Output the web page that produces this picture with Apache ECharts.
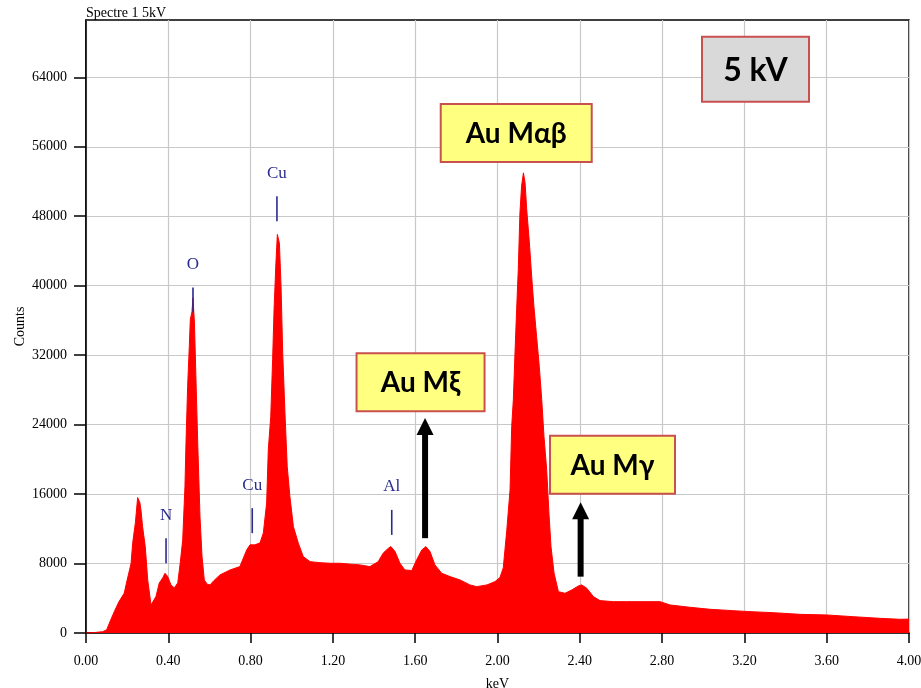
<!DOCTYPE html>
<html>
<head>
<meta charset="utf-8">
<title>Spectre 1 5kV</title>
<script src="https://cdn.jsdelivr.net/npm/echarts@6.0.0/dist/echarts.min.js"></script>
<style>
  html, body { margin: 0; padding: 0; background: #ffffff; }
  #chart { width: 921px; height: 688px; }
</style>
</head>
<body>
<div id="chart"></div>
<script>
// EDS spectrum, 5 kV beam: energy (keV) and counts per channel
const energy = [
  0.00, 0.04, 0.08, 0.10, 0.12, 0.14, 0.16, 0.186, 0.20, 0.219,
  0.227, 0.24, 0.251, 0.256, 0.262, 0.267, 0.275, 0.288, 0.300, 0.316,
  0.324, 0.34, 0.356, 0.373, 0.384, 0.397, 0.413, 0.429, 0.446, 0.458,
  0.47, 0.481, 0.486, 0.494, 0.502, 0.507, 0.515, 0.52, 0.527, 0.535,
  0.543, 0.554, 0.564, 0.575, 0.59, 0.603, 0.62, 0.651, 0.70, 0.748,
  0.781, 0.797, 0.821, 0.846, 0.862, 0.878, 0.886, 0.898, 0.907, 0.914,
  0.923, 0.93, 0.94, 0.948, 0.956, 0.967, 0.978, 0.991, 1.008, 1.032,
  1.056, 1.089, 1.137, 1.186, 1.234, 1.30, 1.332, 1.38, 1.42, 1.445,
  1.47, 1.482, 1.502, 1.526, 1.55, 1.583, 1.607, 1.632, 1.652, 1.672,
  1.696, 1.729, 1.769, 1.818, 1.866, 1.899, 1.949, 1.988, 2.012, 2.028,
  2.045, 2.061, 2.069, 2.077, 2.085, 2.093, 2.101, 2.109, 2.117, 2.126,
  2.134, 2.142, 2.155, 2.166, 2.177, 2.19, 2.203, 2.215, 2.226, 2.239,
  2.25, 2.26, 2.275, 2.296, 2.328, 2.361, 2.393, 2.409, 2.434, 2.466,
  2.498, 2.563, 2.628, 2.693, 2.79, 2.839, 2.936, 3.033, 3.146, 3.227,
  3.34, 3.47, 3.60, 3.729, 3.858, 3.956, 4.00
];
const counts = [
  0, 50, 150, 350, 1500, 2600, 3600, 4600, 6100, 8000,
  10400, 12700, 15600, 15700, 15000, 14200, 12250, 9950, 6100, 3230,
  3100, 4200, 5750, 6350, 6880, 6500, 5540, 5190, 5770, 8070,
  10700, 16900, 21900, 28400, 33000, 36100, 37000, 38600, 35700, 28800,
  21900, 13400, 8800, 6100, 5600, 5540, 6000, 6690, 7260, 7650,
  9570, 10150, 10150, 10380, 11530, 14990, 21100, 24950, 31480, 37250,
  42600, 45900, 44900, 39900, 32280, 25370, 19180, 15720, 12260, 10340,
  8800, 8220, 8100, 8030, 8030, 7900, 7840, 7650, 8220, 9220,
  9770, 9950, 9380, 8030, 7260, 7190, 8420, 9570, 9950, 9380,
  7840, 6880, 6500, 6110, 5540, 5340, 5540, 5920, 6400, 7500,
  11800, 16500, 23790, 26870, 32250, 37250, 41860, 48400, 51470, 53000,
  51860, 48780, 44940, 41090, 37630, 34170, 30710, 26870, 22640, 18800,
  13800, 9950, 6880, 4760, 4570, 4960, 5420, 5540, 5150, 4190,
  3730, 3610, 3610, 3610, 3610, 3230, 2960, 2730, 2570, 2460,
  2340, 2150, 2080, 1880, 1690, 1580, 1600
];

// Axis ticks
const countTicks = [0, 8000, 16000, 24000, 32000, 40000, 48000, 56000, 64000];

// Element identification markers (line energy, count level at the marker foot)
const elementNames = ['N', 'O', 'Cu', 'Cu', 'Al'];
const elementEnergy = [0.389, 0.52, 0.808, 0.928, 1.486];
const elementLevel = [8030, 36900, 11500, 47430, 11300];

// Callout boxes (anchor energy, anchor count level)
const calloutText = ['5 kV', 'Au M\u03b1\u03b2', 'Au M\u03be', 'Au M\u03b3'];
const calloutEnergy = [3.254, 2.091, 1.626, 2.559];
const calloutLevel = [64920, 57600, 28890, 19370];

// Arrows pointing at the Au M lines (energy, foot level, tip level)
const arrowEnergy = [1.648, 2.404];
const arrowFoot = [10920, 6490];
const arrowTip = [24760, 15070];

// Box looks for each callout
const calloutStyle = [
  { w: 107, h: 65, fill: '#d9d9d9', size: 32 },
  { w: 151, h: 58, fill: '#ffff80', size: 28 },
  { w: 128, h: 58, fill: '#ffff80', size: 28 },
  { w: 125, h: 58, fill: '#ffff80', size: 28 }
];

const serif = "'Liberation Serif', 'DejaVu Serif', serif";
const boldSans = "Lato, 'Open Sans', 'DejaVu Sans', sans-serif";

const chart = echarts.init(document.getElementById('chart'), null, { renderer: 'canvas' });

const spectrum = energy.map((e, i) => [e, counts[i]]);
const elements = elementNames.map((n, i) => [elementEnergy[i], elementLevel[i], n]);
const callouts = calloutText.map((t, i) => [calloutEnergy[i], calloutLevel[i], i]);
const arrows = arrowEnergy.map((e, i) => [e, arrowFoot[i], arrowTip[i]]);

chart.setOption({
  animation: false,
  backgroundColor: '#ffffff',
  title: {
    text: 'Spectre 1 5kV',
    left: 86,
    top: 6,
    padding: 0,
    textStyle: { fontFamily: serif, fontSize: 14, fontWeight: 'normal', color: '#000' }
  },
  grid: {
    left: 86, right: 12, top: 20, bottom: 55,
    containLabel: false,
    outerBoundsMode: 'none',
    show: true, borderColor: '#000', borderWidth: 1.5, backgroundColor: 'transparent'
  },
  xAxis: {
    type: 'value',
    min: 0, max: 4, interval: 0.4,
    name: 'keV',
    nameLocation: 'middle',
    nameGap: 44,
    nameMoveOverlap: false,
    nameTextStyle: { fontFamily: serif, fontSize: 14, color: '#000' },
    axisLine: { show: true, lineStyle: { color: '#000', width: 1.5 } },
    axisTick: { show: true, length: 10, lineStyle: { color: '#000', width: 1.5 } },
    axisLabel: {
      margin: 21,
      fontFamily: serif, fontSize: 14, color: '#000',
      formatter: v => v.toFixed(2)
    },
    splitLine: { show: true, lineStyle: { color: '#c8c8c8', width: 1.2 } }
  },
  yAxis: {
    type: 'value',
    min: 0, max: 70600, interval: 8000,
    name: 'Counts',
    nameLocation: 'middle',
    nameGap: 59,
    nameMoveOverlap: false,
    nameRotate: 90,
    nameTextStyle: { fontFamily: serif, fontSize: 14, color: '#000' },
    axisLine: { show: true, lineStyle: { color: '#000', width: 1.5 } },
    axisTick: { show: true, length: 12, customValues: countTicks, lineStyle: { color: '#000', width: 1.5 } },
    axisLabel: {
      margin: 19, customValues: countTicks,
      fontFamily: serif, fontSize: 14, color: '#000',
      formatter: v => String(v)
    },
    splitLine: { show: true, lineStyle: { color: '#c8c8c8', width: 1.2 } }
  },
  series: [
    {
      name: 'spectrum',
      type: 'line',
      data: spectrum,
      symbol: 'none',
      lineStyle: { color: '#ff0000', width: 1 },
      areaStyle: { color: '#ff0000', opacity: 1 },
      z: 2
    },
    {
      name: 'elements',
      type: 'custom',
      data: elements,
      clip: false,
      z: 5,
      renderItem: (params, api) => {
        const p = api.coord([api.value(0), api.value(1)]);
        const name = elements[params.dataIndex][2];
        return {
          type: 'group',
          children: [
            { type: 'line', shape: { x1: p[0], y1: p[1], x2: p[0], y2: p[1] - 25 },
              style: { stroke: '#2b2b8f', lineWidth: 1.6 } },
            { type: 'text', x: p[0], y: p[1] - 48,
              style: { text: name, align: 'center', verticalAlign: 'middle',
                font: '17px ' + serif, fill: '#2b2b8f' } }
          ]
        };
      }
    },
    {
      name: 'arrows',
      type: 'custom',
      data: arrows,
      clip: false,
      z: 6,
      renderItem: (params, api) => {
        const foot = api.coord([api.value(0), api.value(1)]);
        const tip = api.coord([api.value(0), api.value(2)]);
        const x = foot[0];
        const head = 17, half = 8.5, shaft = 3;
        return {
          type: 'group',
          children: [
            { type: 'rect', shape: { x: x - shaft, y: tip[1] + head - 1, width: shaft * 2, height: foot[1] - tip[1] - head + 1 },
              style: { fill: '#000' } },
            { type: 'polygon', shape: { points: [[x, tip[1]], [x + half, tip[1] + head], [x - half, tip[1] + head]] },
              style: { fill: '#000' } }
          ]
        };
      }
    },
    {
      name: 'callouts',
      type: 'custom',
      data: callouts,
      clip: false,
      z: 7,
      renderItem: (params, api) => {
        const p = api.coord([api.value(0), api.value(1)]);
        const s = calloutStyle[params.dataIndex];
        return {
          type: 'group',
          children: [
            { type: 'rect', shape: { x: p[0] - s.w / 2, y: p[1] - s.h / 2, width: s.w, height: s.h },
              style: { fill: s.fill, stroke: '#c9504f', lineWidth: 2 } },
            { type: 'text', x: p[0], y: p[1] + 1,
              style: { text: calloutText[params.dataIndex], align: 'center', verticalAlign: 'middle',
                font: 'bold ' + s.size + 'px ' + boldSans, fill: '#000' } }
          ]
        };
      }
    }
  ]
});
</script>
</body>
</html>
